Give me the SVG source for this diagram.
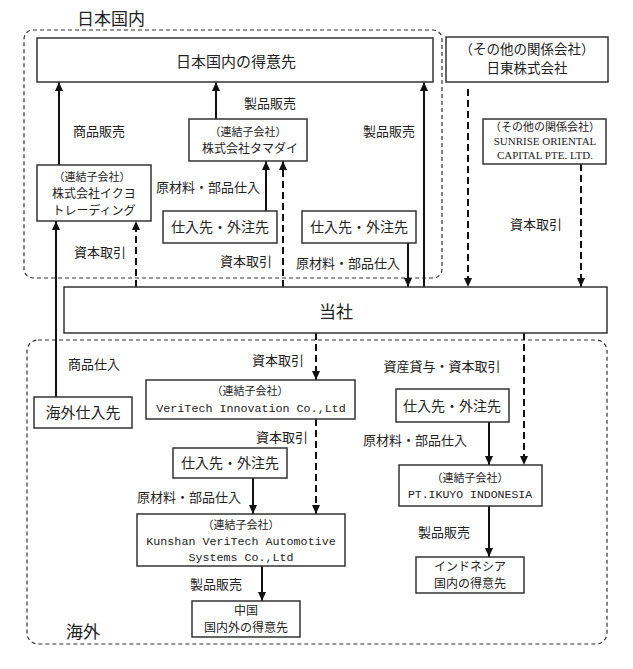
<svg xmlns="http://www.w3.org/2000/svg" width="633" height="669" viewBox="0 0 633 669">
<style>
text{font-family:"Noto Sans CJK JP","Noto Sans",sans-serif;fill:#222;text-anchor:middle}
.box{fill:#fff;stroke:#333;stroke-width:1.5}
.region{fill:none;stroke:#333;stroke-width:1.2;stroke-dasharray:4 3}
.s{fill:none;stroke:#111;stroke-width:2;marker-end:url(#ah)}
.d{fill:none;stroke:#111;stroke-width:2;stroke-dasharray:7 4;marker-end:url(#ah)}
.lbl{font-size:13px}
.sm{font-size:11px}
.mono{font-family:"Liberation Mono",monospace}
.ser{font-family:"Liberation Serif",serif}
</style>
<defs>
<marker id="ah" markerUnits="userSpaceOnUse" markerWidth="9" markerHeight="9" refX="9" refY="4" orient="auto"><path d="M0,0 L9,4 L0,8 z" fill="#111"/></marker>
</defs>
<g id="regions">
<rect class="region" x="24" y="30" width="418" height="248" rx="9"/>
<text x="111" y="25" style="font-size:17px">日本国内</text>
<rect class="region" x="27" y="340" width="580" height="304" rx="11"/>
<text x="83" y="638" style="font-size:17px">海外</text>
</g>
<g id="connectors">
<path class="s" d="M59,165 V82"/>
<path class="s" d="M216,119 V82"/>
<path class="s" d="M424,287 V82"/>
<path class="s" d="M266,211 V161"/>
<path class="d" d="M283,287 V161"/>
<path class="s" d="M56,397 V221"/>
<path class="d" d="M136,287 V221"/>
<path class="s" d="M408,243 V287"/>
<path class="d" d="M468,89 V287"/>
<path class="d" d="M581,164 V287"/>
<path class="d" d="M316,333 V380"/>
<path class="d" d="M524,333 V465"/>
<path class="d" d="M316,419 V514"/>
<path class="s" d="M253,478 V514"/>
<path class="s" d="M262,566 V601"/>
<path class="s" d="M489,422 V465"/>
<path class="s" d="M489,506 V557"/>
</g>
<g id="labels" class="lbl">
<text x="270" y="108">製品販売</text>
<text x="99" y="136">商品販売</text>
<text x="389" y="136">製品販売</text>
<text x="208" y="192">原材料・部品仕入</text>
<text x="100" y="257">資本取引</text>
<text x="246" y="266">資本取引</text>
<text x="348" y="268">原材料・部品仕入</text>
<text x="536" y="229">資本取引</text>
<text x="94" y="369">商品仕入</text>
<text x="278" y="365">資本取引</text>
<text x="442" y="371">資産貸与・資本取引</text>
<text x="282" y="442">資本取引</text>
<text x="189" y="502">原材料・部品仕入</text>
<text x="415" y="445">原材料・部品仕入</text>
<text x="216" y="589">製品販売</text>
<text x="444" y="537">製品販売</text>
</g>
<g id="n-customer-jp">
<rect class="box" x="37" y="38" width="396" height="44"/>
<text x="236" y="67" style="font-size:15px">日本国内の得意先</text>
</g>
<g id="n-tamadai">
<rect class="box" x="189" y="119" width="118" height="42"/>
<text class="sm" x="248" y="136">（連結子会社）</text>
<text x="250" y="153" style="font-size:12px">株式会社タマダイ</text>
</g>
<g id="n-ikuyo-trading">
<rect class="box" x="37" y="165" width="114" height="56"/>
<text class="sm" x="92" y="181">（連結子会社）</text>
<text x="94" y="198" style="font-size:12px">株式会社イクヨ</text>
<text x="94" y="215" style="font-size:12px">トレーディング</text>
</g>
<g id="n-supplier-1">
<rect class="box" x="163" y="211" width="114" height="32"/>
<text x="220" y="232" style="font-size:14px">仕入先・外注先</text>
</g>
<g id="n-supplier-2">
<rect class="box" x="302" y="211" width="114" height="32"/>
<text x="359" y="232" style="font-size:14px">仕入先・外注先</text>
</g>
<g id="n-nitto">
<rect class="box" x="446" y="37" width="162" height="45"/>
<text x="527" y="54" style="font-size:13.5px">（その他の関係会社）</text>
<text x="527" y="73" style="font-size:13.5px">日東株式会社</text>
</g>
<g id="n-sunrise">
<rect class="box" x="483" y="119" width="123" height="45"/>
<text class="sm" x="545" y="131">（その他の関係会社）</text>
<text class="ser" x="545" y="145" style="font-size:11px">SUNRISE ORIENTAL</text>
<text class="ser" x="545" y="159" style="font-size:11px">CAPITAL PTE. LTD.</text>
</g>
<g id="n-company">
<rect class="box" x="64" y="287" width="543" height="46"/>
<text x="336" y="318" style="font-size:17px">当社</text>
</g>
<g id="n-overseas-supplier">
<rect class="box" x="34" y="397" width="98" height="31"/>
<text x="83" y="418" style="font-size:15px">海外仕入先</text>
</g>
<g id="n-veritech">
<rect class="box" x="146" y="380" width="209" height="39"/>
<text class="sm" x="250" y="395">（連結子会社）</text>
<text class="mono" x="251" y="412" style="font-size:11.7px">VeriTech Innovation Co.,Ltd</text>
</g>
<g id="n-supplier-3">
<rect class="box" x="173" y="448" width="114" height="30"/>
<text x="230" y="468" style="font-size:14px">仕入先・外注先</text>
</g>
<g id="n-kunshan">
<rect class="box" x="137" y="514" width="208" height="52"/>
<text class="sm" x="241" y="529">（連結子会社）</text>
<text class="mono" x="241" y="545" style="font-size:11.7px">Kunshan VeriTech Automotive</text>
<text class="mono" x="241" y="561" style="font-size:11.7px">Systems Co.,Ltd</text>
</g>
<g id="n-china">
<rect class="box" x="192" y="601" width="108" height="36"/>
<text x="246" y="615" style="font-size:12px">中国</text>
<text x="246" y="632" style="font-size:12px">国内外の得意先</text>
</g>
<g id="n-supplier-4">
<rect class="box" x="396" y="389" width="113" height="33"/>
<text x="452" y="411" style="font-size:14px">仕入先・外注先</text>
</g>
<g id="n-pt-ikuyo">
<rect class="box" x="399" y="465" width="143" height="41"/>
<text class="sm" x="470" y="482">（連結子会社）</text>
<text class="mono" x="470" y="498" style="font-size:11.5px">PT.IKUYO INDONESIA</text>
</g>
<g id="n-indonesia">
<rect class="box" x="416" y="557" width="108" height="36"/>
<text x="470" y="571" style="font-size:12px">インドネシア</text>
<text x="470" y="588" style="font-size:12px">国内の得意先</text>
</g>
</svg>
